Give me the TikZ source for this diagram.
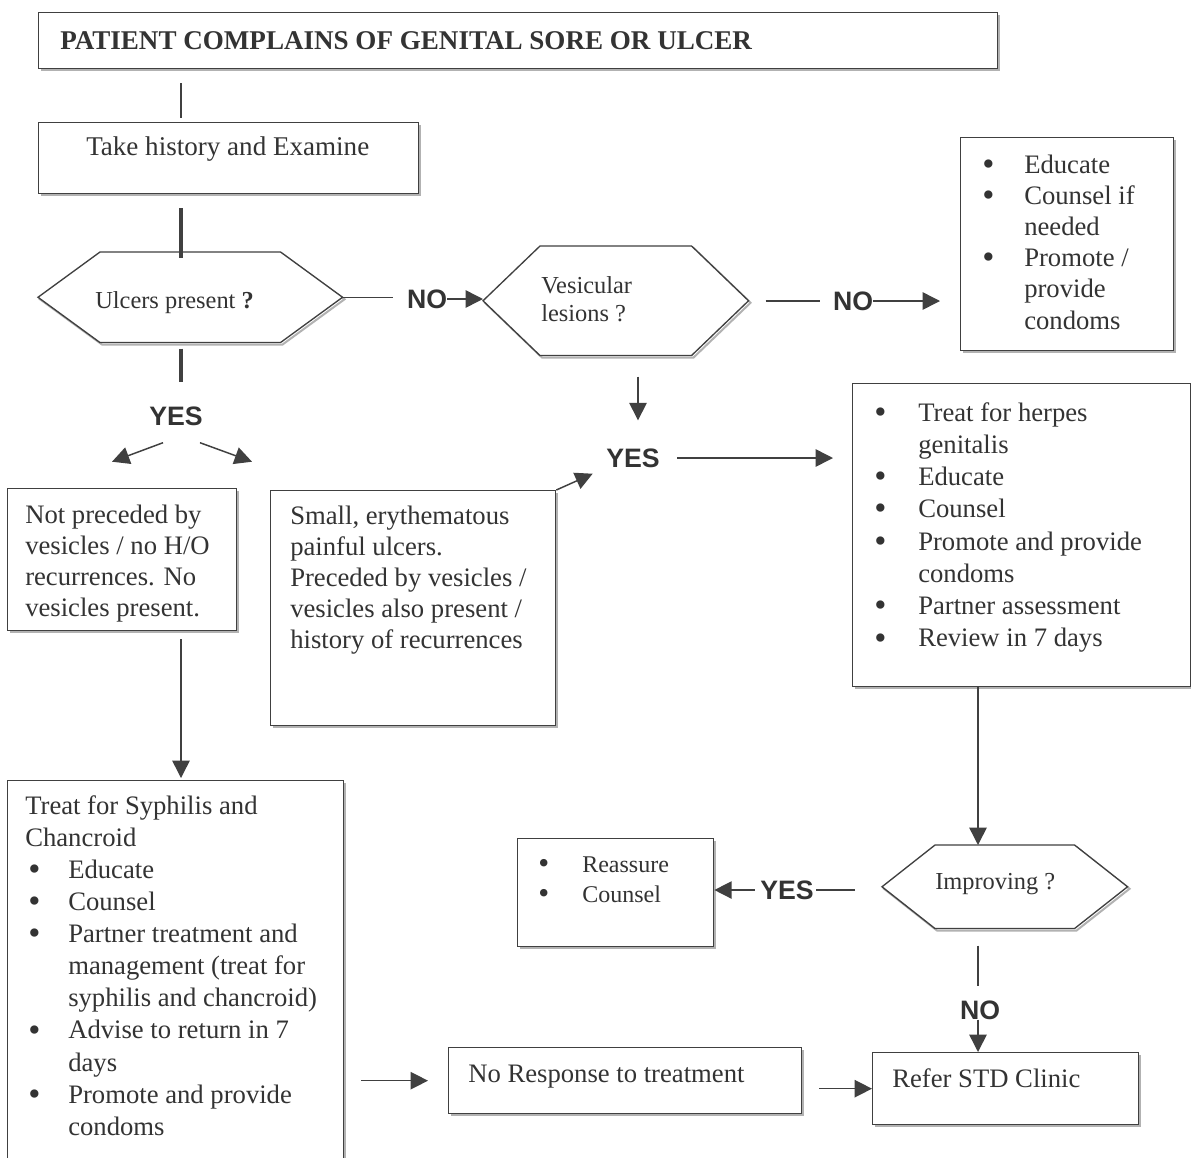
\documentclass[tikz,border=0pt]{standalone}
\usepackage{fontspec}
\usepackage{graphicx}
\setmainfont{Liberation Serif}
\newfontfamily\lsans{Liberation Sans}
\usetikzlibrary{arrows.meta,shadows,calc}
\definecolor{ink}{gray}{0.2}
\definecolor{edge}{gray}{0.25}
\newcommand\bul{\raisebox{-0.08em}{\scalebox{1.3}{\textbullet}}}
\tikzset{
 box/.style={draw=edge, line width=1pt, fill=white, anchor=north west, inner sep=0pt,
   drop shadow={shadow xshift=1.5pt, shadow yshift=-1.5pt, fill=black!30, opacity=1}},
 hexnode/.style={anchor=north west, inner sep=0pt},
 txt/.style={inner sep=0pt, anchor=base west, text=ink, font=\fontsize{20}{24}\selectfont},
 htxt/.style={txt, font=\fontsize{18.3}{21}\selectfont},
 lab/.style={inner sep=0pt, text=ink, font=\lsans\bfseries\fontsize{20}{24}\selectfont},
 conn/.style={draw=edge, line width=1.1pt},
 thickconn/.style={draw=edge, line width=3.2pt},
 arr/.style={conn, -{Triangle[length=13pt,width=13pt]}},
}
\newcommand\hexdraw[2]{%
  \path[draw=black!30, line width=1.5pt, transform canvas={shift={(1.5pt,-1.5pt)}}]
    (#1.west) -- ([xshift=#2]#1.north west) -- ([xshift=-#2]#1.north east) -- (#1.east)
    -- ([xshift=-#2]#1.south east) -- ([xshift=#2]#1.south west) -- cycle;
  \path[draw=edge, line width=1pt, fill=white]
    (#1.west) -- ([xshift=#2]#1.north west) -- ([xshift=-#2]#1.north east) -- (#1.east)
    -- ([xshift=-#2]#1.south east) -- ([xshift=#2]#1.south west) -- cycle;}
\begin{document}
\begin{tikzpicture}[x=0.75pt,y=-0.75pt]
\useasboundingbox[fill=white] (0,0) rectangle (1191,1157);
\coordinate (x181) at (181,0);
\coordinate (x638) at (638,0);
\coordinate (x978) at (978,0);
% boxes
\node[box, minimum width=719.25pt, minimum height=42pt] (title) at (38,12) {};
\node[box, minimum width=285pt, minimum height=53.25pt] (take) at (38,122) {};
\node[box, minimum width=159.75pt, minimum height=159.75pt] (educ) at (960,137) {};
\node[box, minimum width=253.5pt, minimum height=227.25pt] (herpes) at (852,383) {};
\node[box, minimum width=171.75pt, minimum height=106.5pt] (notp) at (7,488) {};
\node[box, minimum width=213.75pt, minimum height=176.25pt] (small) at (270,490) {};
\node[box, minimum width=252pt, minimum height=290pt] (treat) at (7,780) {};
\node[box, minimum width=147pt, minimum height=81pt] (reass) at (517,838) {};
\node[box, minimum width=264.75pt, minimum height=49.5pt] (noresp) at (448,1047) {};
\node[box, minimum width=199.5pt, minimum height=54pt] (refer) at (872,1052) {};
% hexagons
\node[hexnode, minimum width=228pt, minimum height=67.5pt] (ulcers) at (38,252) {};
\node[hexnode, minimum width=198.75pt, minimum height=81.75pt] (vesic) at (483,246) {};
\node[hexnode, minimum width=183.75pt, minimum height=62.25pt] (improv) at (882,845) {};
\hexdraw{ulcers}{46.5pt}
\hexdraw{vesic}{42.75pt}
\hexdraw{improv}{39.75pt}
% texts
\node[txt, font=\bfseries\fontsize{20.3}{24}\selectfont] (ttitle) at (60,49) {PATIENT COMPLAINS OF GENITAL SORE OR ULCER};
\node[txt, font=\fontsize{20.3}{24}\selectfont] (ttake) at (86,155) {Take history and Examine};
\node[htxt] (tulc) at (95,308) {Ulcers present \textbf{?}};
\node[htxt] (tves) at (541,293) {\begin{tabular}[t]{@{}l@{}}Vesicular\\lesions ?\end{tabular}};
\node[txt, font=\fontsize{20}{23.4}\selectfont] (teduc) at (982,173) {\begin{tabular}[t]{@{}p{31.5pt}@{}l@{}}\bul & Educate\\ \bul & Counsel if\\ & needed\\ \bul & Promote /\\ & provide\\ & condoms\end{tabular}};
\node[txt, font=\fontsize{20}{24.2}\selectfont] (therp) at (874,421) {\begin{tabular}[t]{@{}p{33pt}@{}l@{}}\bul & Treat for herpes\\ & genitalis\\ \bul & Educate\\ \bul & Counsel\\ \bul & Promote and provide\\ & condoms\\ \bul & Partner assessment\\ \bul & Review in 7 days\end{tabular}};
\node[txt, font=\fontsize{20}{23.25}\selectfont] (tnotp) at (25,523) {\begin{tabular}[t]{@{}l@{}}Not preceded by\\vesicles / no H/O\\recurrences. No\\vesicles present.\end{tabular}};
\node[txt, font=\fontsize{20}{23.25}\selectfont] (tsmall) at (290,524) {\begin{tabular}[t]{@{}l@{}}Small, erythematous\\painful ulcers.\\Preceded by vesicles /\\vesicles also present /\\history of recurrences\end{tabular}};
\node[txt, font=\fontsize{20}{24.1}\selectfont] (ttreat) at (25,814) {\begin{tabular}[t]{@{}p{32.25pt}@{}l@{}}\multicolumn{2}{@{}l@{}}{Treat for Syphilis and}\\ \multicolumn{2}{@{}l@{}}{Chancroid}\\ \hspace*{2.25pt}\bul & Educate\\ \hspace*{2.25pt}\bul & Counsel\\ \hspace*{2.25pt}\bul & Partner treatment and\\ & management (treat for\\ & syphilis and chancroid)\\ \hspace*{2.25pt}\bul & Advise to return in 7\\ & days\\ \hspace*{2.25pt}\bul & Promote and provide\\ & condoms\end{tabular}};
\node[txt, font=\fontsize{18}{22.5}\selectfont] (treass) at (538,872) {\begin{tabular}[t]{@{}p{33pt}@{}l@{}}\bul & Reassure\\ \bul & Counsel\end{tabular}};
\node[htxt] (timp) at (935,889) {Improving ?};
\node[txt] (tnores) at (468,1082) {No Response to treatment};
\node[txt] (trefer) at (892,1087) {Refer STD Clinic};
% labels
\node[lab] (yes1) at (176,416) {YES};
\node[lab] (no1) at (427,299) {NO};
\node[lab] (no2) at (853,301) {NO};
\node[lab] (yes2) at (633,458) {YES};
\node[lab] (yes3) at (787,890) {YES};
\node[lab] (no3) at (980,1010) {NO};
% connectors
\draw[conn, shorten <=10.5pt, shorten >=3pt] (title.south -| x181) -- (take.north -| x181);
\draw[thickconn, shorten <=10.5pt, shorten >=-4.5pt] (take.south -| x181) -- (ulcers.north -| x181);
\draw[thickconn, shorten <=4.5pt, shorten >=18pt] (ulcers.south -| x181) -- (yes1.north -| x181);
\draw[arr] ([shift={(-13,17)}]yes1.south) -- ++(-51,19);
\draw[arr] ([shift={(24,17)}]yes1.south) -- ++(52,19);
\draw[conn, shorten >=10.5pt] (ulcers.east) -- (ulcers.east -| no1.west);
\draw[arr] (no1.east) -- (no1.east -| vesic.west);
\draw[conn, shorten <=12.75pt, shorten >=9.75pt] (vesic.east) -- (vesic.east -| no2.west);
\draw[arr, shorten >=15pt] (no2.east) -- (no2.east -| educ.west);
\draw[arr, shorten <=15.75pt, shorten >=21pt] (vesic.south -| x638) -- (yes2.north -| x638);
\draw[arr, shorten <=13pt, shorten >=14.25pt] (yes2.east) -- (yes2.east -| herpes.west);
\draw[arr, shorten >=11pt] (small.north east) -- (yes2.south west);
\draw[arr, shorten <=6pt, shorten >=1.5pt] (notp.south -| x181) -- (treat.north -| x181);
\draw[arr, shorten <=12.75pt, shorten >=15pt] (treat.east |- noresp.west) -- (noresp.west);
\draw[arr, shorten <=12.75pt] (noresp.east |- refer.west) -- (refer.west);
\draw[arr] (herpes.south -| x978) -- (improv.north -| x978);
\draw[conn, shorten <=20.25pt, shorten >=1.5pt] (yes3.east -| improv.west) -- (yes3.east);
\draw[arr, shorten <=4pt] (yes3.west) -- (yes3.west -| reass.east);
\draw[conn, shorten <=12.75pt, shorten >=11pt] (improv.south -| x978) -- (no3.north -| x978);
\draw[arr] (no3.south -| x978) -- (refer.north -| x978);
\end{tikzpicture}
\end{document}
